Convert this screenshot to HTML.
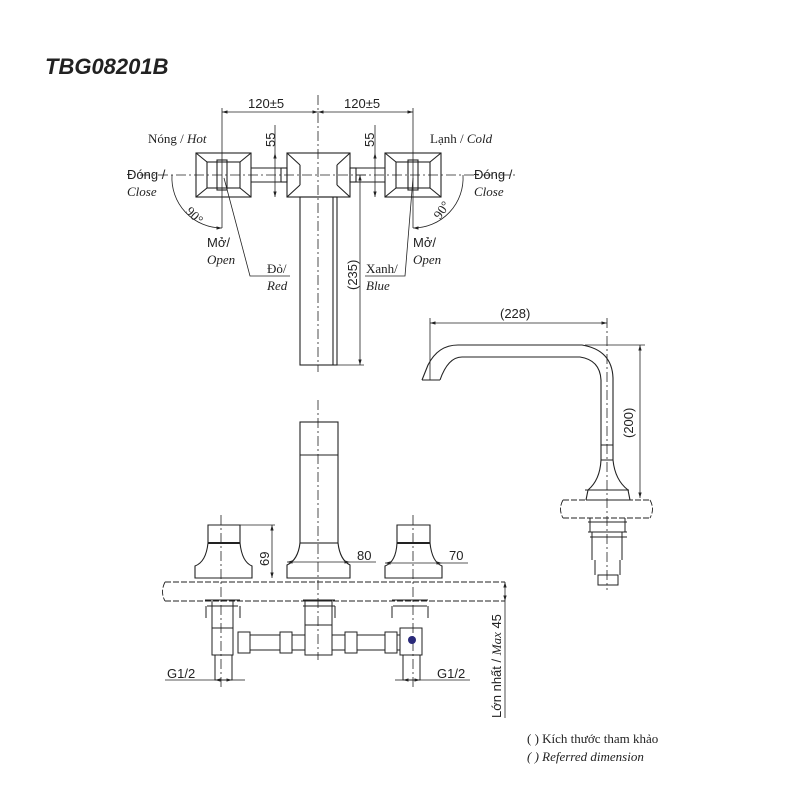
<!DOCTYPE html>
<html><head><meta charset="utf-8"><style>
html,body{margin:0;padding:0;background:#fff;}
svg{display:block;}
text{font-family:"Liberation Sans",sans-serif;fill:#222;}
.it{font-family:"Liberation Serif",serif;font-style:italic;}
.sr{font-family:"Liberation Serif",serif;}
</style></head><body>
<svg width="800" height="800" viewBox="0 0 800 800" xmlns="http://www.w3.org/2000/svg">
<defs><marker id="a" viewBox="0 0 10 10" refX="10" refY="5" markerWidth="7" markerHeight="7" orient="auto-start-reverse"><path d="M0,2 L10,5 L0,8 z" fill="#222"/></marker></defs>
<text x="45" y="74" font-size="22" font-weight="bold" font-style="italic" fill="#111">TBG08201B</text>
<g stroke="#222" fill="none" stroke-width="1">
<!-- TOP VIEW -->
<line x1="318" y1="95" x2="318" y2="372" stroke-dasharray="10,3,2,3" stroke-width="0.8"/>
<line x1="140" y1="175" x2="515" y2="175" stroke-dasharray="10,3,2,3" stroke-width="0.8"/>
<line x1="222" y1="112" x2="318" y2="112" marker-start="url(#a)" marker-end="url(#a)" stroke-width="0.8"/>
<line x1="318" y1="112" x2="413" y2="112" marker-start="url(#a)" marker-end="url(#a)" stroke-width="0.8"/>
<line x1="222" y1="108" x2="222" y2="228" stroke-width="0.8"/>
<line x1="413" y1="108" x2="413" y2="228" stroke-width="0.8"/>
<g stroke-width="1.1">
<rect x="196" y="153" width="55" height="44"/>
<rect x="207" y="162" width="33" height="26"/>
<path d="M196,153 L207,162 M251,153 L240,162 M196,197 L207,188 M251,197 L240,188"/>
<rect x="217" y="160" width="10" height="30"/>
<rect x="385" y="153" width="56" height="44"/>
<rect x="396" y="162" width="34" height="26"/>
<path d="M385,153 L396,162 M441,153 L430,162 M385,197 L396,188 M441,197 L430,188"/>
<rect x="408" y="160" width="10" height="30"/>
<rect x="287" y="153" width="63" height="44"/>
<path d="M287,153 L300,165 M350,153 L337,165 M287,197 L300,185 M350,197 L337,185 M300,165 L300,185 M337,165 L337,185"/>
<rect x="300" y="197" width="37" height="168"/>
<line x1="333" y1="197" x2="333" y2="365"/>
<path d="M251,168 H281 M251,182 H281 M356,168 H385 M356,182 H385"/>
<rect x="281" y="168" width="6" height="14"/><rect x="350" y="168" width="6" height="14"/>
</g>
<line x1="275" y1="125" x2="275" y2="153" stroke-width="0.8"/>
<line x1="275" y1="153" x2="275" y2="197" marker-start="url(#a)" marker-end="url(#a)" stroke-width="0.8"/>
<line x1="375" y1="125" x2="375" y2="153" stroke-width="0.8"/>
<line x1="375" y1="153" x2="375" y2="197" marker-start="url(#a)" marker-end="url(#a)" stroke-width="0.8"/>
<line x1="356" y1="175" x2="366" y2="175" stroke-width="0.8"/>
<line x1="360" y1="175" x2="360" y2="365" marker-start="url(#a)" marker-end="url(#a)" stroke-width="0.8"/>
<line x1="337" y1="365" x2="364" y2="365" stroke-width="0.8"/>
<path d="M172,175 A50,50 0 0 0 222,228" marker-end="url(#a)" stroke-width="0.8"/>
<path d="M463,175 A50,50 0 0 1 413,228" marker-end="url(#a)" stroke-width="0.8"/>
<path d="M224,178 L250,276 H290" stroke-width="0.8"/>
<path d="M413,178 L405,276 H365" stroke-width="0.8"/>
<!-- SIDE VIEW -->
<line x1="430" y1="323" x2="607" y2="323" marker-start="url(#a)" marker-end="url(#a)" stroke-width="0.8"/>
<line x1="430" y1="318" x2="430" y2="380" stroke-width="0.8"/>
<line x1="607" y1="318" x2="607" y2="590" stroke-dasharray="10,3,2,3" stroke-width="0.8"/>
<line x1="640" y1="345" x2="640" y2="498" marker-start="url(#a)" marker-end="url(#a)" stroke-width="0.8"/>
<line x1="585" y1="345" x2="645" y2="345" stroke-width="0.8"/>
<g stroke-width="1.1">
<path d="M422,380 L428,365 Q438,345 458,345 L582,345 Q612,350 613,378 L613,445"/>
<path d="M440,380 Q448,357 462,357 L580,357 Q600,360 601,380 L601,445"/>
<path d="M422,380 H440"/>
<path d="M601,445 H613 M601,460 H613 M601,445 V460 M613,445 V460"/>
<path d="M601,460 Q600,480 588,490 L586,500 M613,460 Q615,480 628,490 L630,500"/>
<path d="M585,490 H629 M586,500 H630"/>
</g>
<path d="M563,500 H650 M563,518 H650 M563,500 Q558,509 563,518 M650,500 Q655,509 650,518" stroke-dasharray="6,2" stroke-width="0.9"/>
<path d="M590,518 V532 M625,518 V532 M588,522 H627 M588,532 H627 M592,532 V560 M622,532 V560 M595,560 V575 M620,560 V575 M598,575 H618 V585 H598 Z M590,537 H627" stroke-width="1"/>
<!-- FRONT VIEW -->
<line x1="318" y1="400" x2="318" y2="660" stroke-dasharray="10,3,2,3" stroke-width="0.8"/>
<line x1="221" y1="515" x2="221" y2="690" stroke-dasharray="10,3,2,3" stroke-width="0.8"/>
<line x1="413" y1="515" x2="413" y2="690" stroke-dasharray="10,3,2,3" stroke-width="0.8"/>
<g stroke-width="1.1">
<rect x="300" y="422" width="38" height="121"/>
<line x1="300" y1="455" x2="338" y2="455"/>
<path d="M300,543 Q298,560 287,565 V578 H350 V565 Q340,560 338,543"/>
<path d="M208,525 H240 V543 Q242,562 252,566 V578 H195 V566 Q206,562 208,543 Z"/>
<line x1="208" y1="543" x2="240" y2="543" stroke-width="2"/>
<path d="M397,525 H430 V543 Q432,562 442,566 V578 H385 V566 Q396,562 397,543 Z"/>
<line x1="397" y1="543" x2="430" y2="543" stroke-width="2"/>
</g>
<path d="M165,582 H505 M165,601 H505 M165,582 Q160,592 165,601" stroke-dasharray="6,2" stroke-width="0.9"/>
<line x1="240" y1="525" x2="275" y2="525" stroke-width="0.8"/>
<line x1="272" y1="525" x2="272" y2="578" marker-start="url(#a)" marker-end="url(#a)" stroke-width="0.8"/>
<line x1="287" y1="562" x2="350" y2="562" marker-start="url(#a)" marker-end="url(#a)" stroke-width="0.8"/>
<line x1="350" y1="562" x2="376" y2="562" stroke-width="0.8"/>
<line x1="385" y1="563" x2="442" y2="563" marker-start="url(#a)" marker-end="url(#a)" stroke-width="0.8"/>
<line x1="442" y1="563" x2="468" y2="563" stroke-width="0.8"/>
<line x1="505" y1="582" x2="505" y2="601" marker-start="url(#a)" marker-end="url(#a)" stroke-width="0.8"/>
<line x1="505" y1="601" x2="505" y2="718" stroke-width="0.8"/>
<g stroke-width="1">
<!-- left -->
<path d="M212,601 V628 M233,601 V628 M205,600 H240 M207,606 H238 M206,606 V618 M240,606 V618 M303,600 H335 M303,606 H335 M305,606 V618 M335,606 V618 M392,600 H428 M393,606 H427 M392,606 V618 M428,606 V618"/>
<rect x="212" y="628" width="21" height="27"/>
<rect x="215" y="655" width="17" height="25"/>
<rect x="305" y="601" width="27" height="24"/>
<rect x="305" y="625" width="27" height="30"/>
<rect x="400" y="628" width="22" height="27"/>
<rect x="403" y="655" width="17" height="25"/>
<path d="M250,635 H280 M250,650 H280 M292,635 H305 M292,650 H305 M332,635 H345 M332,650 H345 M357,635 H385 M357,650 H385 M397,635 H400 M397,650 H400"/>
<rect x="238" y="632" width="12" height="21"/><rect x="280" y="632" width="12" height="21"/>
<rect x="345" y="632" width="12" height="21"/><rect x="385" y="632" width="12" height="21"/>
</g>
<circle cx="412" cy="640" r="4" fill="#2a2a7a" stroke="none"/>
<line x1="165" y1="680" x2="215" y2="680" stroke-width="0.8"/>
<line x1="215" y1="680" x2="232" y2="680" marker-start="url(#a)" marker-end="url(#a)" stroke-width="0.8"/>
<line x1="232" y1="680" x2="245" y2="680" stroke-width="0.8"/>
<line x1="395" y1="680" x2="403" y2="680" stroke-width="0.8"/>
<line x1="403" y1="680" x2="420" y2="680" marker-start="url(#a)" marker-end="url(#a)" stroke-width="0.8"/>
<line x1="420" y1="680" x2="470" y2="680" stroke-width="0.8"/>
</g>
<g font-size="13">
<text x="248" y="108">120±5</text>
<text x="344" y="108">120±5</text>
<text transform="translate(275,147) rotate(-90)">55</text>
<text transform="translate(374,147) rotate(-90)">55</text>
<text transform="translate(357,290) rotate(-90)">(235)</text>
<text x="148" y="143" class="sr">Nóng / <tspan class="it">Hot</tspan></text>
<text x="430" y="143" class="sr">Lạnh / <tspan class="it">Cold</tspan></text>
<text x="127" y="179">Đóng /</text>
<text x="127" y="196" class="it">Close</text>
<text x="474" y="179">Đóng /</text>
<text x="474" y="196" class="it">Close</text>
<text x="207" y="247">Mở/</text>
<text x="207" y="264" class="it">Open</text>
<text x="413" y="247">Mở/</text>
<text x="413" y="264" class="it">Open</text>
<text x="267" y="273" class="sr">Đỏ/</text>
<text x="267" y="290" class="it">Red</text>
<text x="366" y="273" class="sr">Xanh/</text>
<text x="366" y="290" class="it">Blue</text>
<text transform="translate(185,212) rotate(45)" class="sr">90°</text>
<text transform="translate(440,220) rotate(-55)" class="sr">90°</text>
<text x="500" y="318">(228)</text>
<text transform="translate(633,438) rotate(-90)">(200)</text>
<text transform="translate(269,566) rotate(-90)">69</text>
<text x="357" y="560">80</text>
<text x="449" y="560">70</text>
<text x="167" y="678">G1/2</text>
<text x="437" y="678">G1/2</text>
<text transform="translate(501,718) rotate(-90)">Lớn nhất / <tspan class="it">Max</tspan> 45</text>
<text x="527" y="743" class="sr">( ) Kích thước tham khảo</text>
<text x="527" y="761" class="it">( ) Referred dimension</text>
</g>
</svg>
</body></html>
